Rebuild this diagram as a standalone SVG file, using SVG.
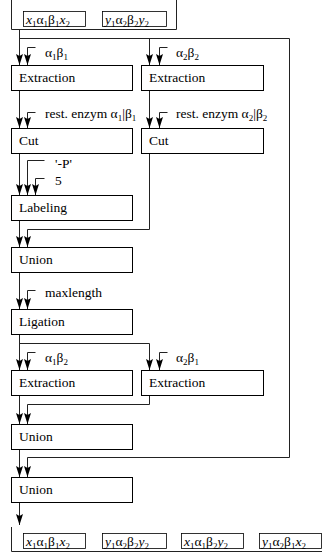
<svg xmlns="http://www.w3.org/2000/svg" width="329" height="557" viewBox="0 0 329 557" font-family="'Liberation Serif', 'Times New Roman', serif">
<defs>
<marker id="ah" viewBox="0 0 11 7" refX="11" refY="3.5" markerWidth="11" markerHeight="7" markerUnits="userSpaceOnUse" orient="auto">
<path d="M0,0 L11,3.5 L0,7 L2,3.5 z" fill="#000"/>
</marker>
<style>
.box{fill:#fff;stroke:#000;stroke-width:1}
.lbl{fill:#fff;stroke:#000;stroke-width:0.8}
.t{font-family:'Liberation Serif','Times New Roman',serif;font-size:13.5px;fill:#000}
.s{font-size:9px}
.c{fill:none;stroke:#222;stroke-width:1}
.a{fill:none;stroke:#222;stroke-width:1;marker-end:url(#ah)}
.i{font-style:italic}
</style>
</defs>
<rect width="329" height="557" fill="#fff"/>

<g id="tube-in">
<path class="c" d="M11.5,0 V29.5 H176.5 V0"/>
<rect class="lbl" x="23.5" y="11.5" width="62" height="15"/>
<text class="t" x="26" y="23.5"><tspan class="i">x</tspan><tspan class="s" dy="3">1</tspan><tspan dy="-3">α</tspan><tspan class="s" dy="3">1</tspan><tspan dy="-3">β</tspan><tspan class="s" dy="3">1</tspan><tspan class="i" dy="-3">x</tspan><tspan class="s" dy="3">2</tspan></text>
<rect class="lbl" x="102.5" y="11.5" width="64" height="15"/>
<text class="t" x="105" y="23.5"><tspan class="i">y</tspan><tspan class="s" dy="3">1</tspan><tspan dy="-3">α</tspan><tspan class="s" dy="3">2</tspan><tspan dy="-3">β</tspan><tspan class="s" dy="3">2</tspan><tspan class="i" dy="-3">y</tspan><tspan class="s" dy="3">2</tspan></text>
</g>

<g id="connectors">
<path class="a" d="M19.5,29.5 V65"/>
<path class="c" d="M19.5,38.5 H289.5 V457.5 H27.5"/>
<path class="a" d="M149.5,38.5 V65"/>
<path class="a" d="M35.5,47.5 H27.5 V65"/>
<path class="a" d="M167.5,47.5 H159.5 V65"/>

<path class="a" d="M19.5,90 V128"/>
<path class="a" d="M35.5,112.5 H27.5 V128"/>
<path class="a" d="M149.5,90 V128"/>
<path class="a" d="M167.5,112.5 H159.5 V128"/>

<path class="a" d="M19.5,153 V195"/>
<path class="a" d="M44.5,160.5 H27.5 V195"/>
<path class="a" d="M44.5,178.5 H35.5 V195"/>

<path class="a" d="M19.5,220 V247"/>
<path class="a" d="M149.5,153 V229.5 H27.5 V247"/>

<path class="a" d="M19.5,272 V309"/>
<path class="a" d="M35.5,290.5 H27.5 V309"/>

<path class="a" d="M19.5,334 V370"/>
<path class="a" d="M19.5,343.5 H149.5 V370"/>
<path class="a" d="M35.5,352.5 H27.5 V370"/>
<path class="a" d="M167.5,352.5 H159.5 V370"/>

<path class="a" d="M19.5,395 V424"/>
<path class="a" d="M149.5,395 V404.5 H27.5 V424"/>

<path class="a" d="M19.5,449 V477"/>
<path class="a" d="M27.5,457.5 V477"/>

<path class="a" d="M19.5,502 V525"/>
</g>

<g id="lbl-a1b1"><text class="t" x="45" y="57">α<tspan class="s" dy="3">1</tspan><tspan dy="-3">β</tspan><tspan class="s" dy="3">1</tspan></text></g>
<g id="lbl-a2b2"><text class="t" x="176" y="57">α<tspan class="s" dy="3">2</tspan><tspan dy="-3">β</tspan><tspan class="s" dy="3">2</tspan></text></g>

<g id="extraction1"><rect class="box" x="11.5" y="65.5" width="121" height="25"/><text class="t" x="19" y="82">Extraction</text></g>
<g id="extraction2"><rect class="box" x="141.5" y="65.5" width="122" height="25"/><text class="t" x="149" y="82">Extraction</text></g>

<g id="lbl-enz1"><text class="t" x="45" y="118">rest. enzym α<tspan class="s" dy="3">1</tspan><tspan dy="-3">|β</tspan><tspan class="s" dy="3">1</tspan></text></g>
<g id="lbl-enz2"><text class="t" x="176" y="118">rest. enzym α<tspan class="s" dy="3">2</tspan><tspan dy="-3">|β</tspan><tspan class="s" dy="3">2</tspan></text></g>

<g id="cut1"><rect class="box" x="11.5" y="128.5" width="121" height="25"/><text class="t" x="19" y="145">Cut</text></g>
<g id="cut2"><rect class="box" x="141.5" y="128.5" width="122" height="25"/><text class="t" x="149" y="145">Cut</text></g>

<g id="lbl-p"><text class="t" x="55" y="168">'-P'</text></g>
<g id="lbl-5"><text class="t" x="55" y="185">5</text></g>

<g id="labeling"><rect class="box" x="11.5" y="195.5" width="121" height="25"/><text class="t" x="19" y="212">Labeling</text></g>
<g id="union1"><rect class="box" x="11.5" y="247.5" width="121" height="25"/><text class="t" x="19" y="264">Union</text></g>

<g id="lbl-maxlength"><text class="t" x="45" y="297">maxlength</text></g>
<g id="ligation"><rect class="box" x="11.5" y="309.5" width="121" height="25"/><text class="t" x="19" y="326">Ligation</text></g>

<g id="lbl-a1b2"><text class="t" x="45" y="362">α<tspan class="s" dy="3">1</tspan><tspan dy="-3">β</tspan><tspan class="s" dy="3">2</tspan></text></g>
<g id="lbl-a2b1"><text class="t" x="176" y="362">α<tspan class="s" dy="3">2</tspan><tspan dy="-3">β</tspan><tspan class="s" dy="3">1</tspan></text></g>

<g id="extraction3"><rect class="box" x="11.5" y="370.5" width="121" height="25"/><text class="t" x="19" y="387">Extraction</text></g>
<g id="extraction4"><rect class="box" x="141.5" y="370.5" width="122" height="25"/><text class="t" x="149" y="387">Extraction</text></g>

<g id="union2"><rect class="box" x="11.5" y="424.5" width="121" height="25"/><text class="t" x="19" y="441">Union</text></g>
<g id="union3"><rect class="box" x="11.5" y="477.5" width="121" height="25"/><text class="t" x="19" y="494">Union</text></g>

<g id="tube-out">
<path class="c" d="M11.5,527 V551.5 H322"/>
<rect class="lbl" x="23.5" y="533.5" width="62" height="15"/>
<text class="t" x="26" y="545.5"><tspan class="i">x</tspan><tspan class="s" dy="3">1</tspan><tspan dy="-3">α</tspan><tspan class="s" dy="3">1</tspan><tspan dy="-3">β</tspan><tspan class="s" dy="3">1</tspan><tspan class="i" dy="-3">x</tspan><tspan class="s" dy="3">2</tspan></text>
<rect class="lbl" x="102.5" y="533.5" width="64" height="15"/>
<text class="t" x="105" y="545.5"><tspan class="i">y</tspan><tspan class="s" dy="3">1</tspan><tspan dy="-3">α</tspan><tspan class="s" dy="3">2</tspan><tspan dy="-3">β</tspan><tspan class="s" dy="3">2</tspan><tspan class="i" dy="-3">y</tspan><tspan class="s" dy="3">2</tspan></text>
<rect class="lbl" x="181.5" y="533.5" width="62" height="15"/>
<text class="t" x="184" y="545.5"><tspan class="i">x</tspan><tspan class="s" dy="3">1</tspan><tspan dy="-3">α</tspan><tspan class="s" dy="3">1</tspan><tspan dy="-3">β</tspan><tspan class="s" dy="3">2</tspan><tspan class="i" dy="-3">y</tspan><tspan class="s" dy="3">2</tspan></text>
<rect class="lbl" x="259.5" y="533.5" width="62" height="15"/>
<text class="t" x="262" y="545.5"><tspan class="i">y</tspan><tspan class="s" dy="3">1</tspan><tspan dy="-3">α</tspan><tspan class="s" dy="3">2</tspan><tspan dy="-3">β</tspan><tspan class="s" dy="3">1</tspan><tspan class="i" dy="-3">x</tspan><tspan class="s" dy="3">2</tspan></text>
</g>
</svg>
